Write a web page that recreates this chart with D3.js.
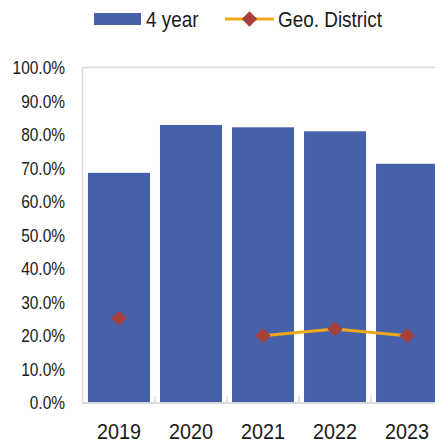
<!DOCTYPE html>
<html>
<head>
<meta charset="utf-8">
<script src="https://cdn.jsdelivr.net/npm/d3@7"></script>
<style>
  body { margin: 0; background: #fff; }
  text { font-family: "Liberation Sans Narrow", "Arial Narrow", "Liberation Sans", sans-serif; fill: #1a1a1a; }
</style>
</head>
<body>
<div class="chart"></div>
<script>
var years = ["2019", "2020", "2021", "2022", "2023"];
var fourYear = [0.687, 0.830, 0.823, 0.811, 0.714];
var geoDistrict = [0.253, null, 0.201, 0.221, 0.201];
var yTicks = [0, 0.1, 0.2, 0.3, 0.4, 0.5, 0.6, 0.7, 0.8, 0.9, 1.0];

var svgWidth = 435;
var svgHeight = 444;

// no narrow font installed, so squeeze the text horizontally
var squeeze = 0.86;

var svg = d3.select(".chart")
    .append("svg")
    .attr("width", svgWidth)
    .attr("height", svgHeight);

var xScale = d3.scaleBand()
    .domain(years)
    .range([83, 443])
    .paddingInner(0.139)
    .paddingOuter(0.069);

var yScale = d3.scaleLinear()
    .domain([0, 1])
    .range([403, 68]);

// plot border
svg.append("rect")
    .attr("x", 82.5)
    .attr("y", 67.5)
    .attr("width", 400)
    .attr("height", 335.5)
    .attr("fill", "none")
    .attr("stroke", "#d9d9d9")
    .attr("stroke-width", 1.5);

// bars
svg.selectAll(".bar")
    .data(years)
    .enter()
    .append("rect")
    .attr("class", "bar")
    .attr("x", function(d) { return xScale(d); })
    .attr("y", function(d, i) { return yScale(fourYear[i]); })
    .attr("width", xScale.bandwidth())
    .attr("height", function(d, i) { return yScale(0) - yScale(fourYear[i]); })
    .attr("fill", "#4660aa");

// x axis line with inner ticks between categories
var bottom = svg.append("g");
bottom.append("line")
    .attr("x1", 82).attr("x2", 443)
    .attr("y1", 403).attr("y2", 403)
    .attr("stroke", "#d9d9d9")
    .attr("stroke-width", 2);
years.slice(1).forEach(function(d) {
    var xx = xScale(d) - xScale.step() * xScale.paddingInner() / 2;
    bottom.append("line")
        .attr("x1", xx).attr("x2", xx)
        .attr("y1", 396).attr("y2", 403)
        .attr("stroke", "#d9d9d9")
        .attr("stroke-width", 1.5);
});

// y axis labels
var leftAxis = d3.axisLeft(yScale)
    .tickValues(yTicks)
    .tickFormat(d3.format(".1%"))
    .tickSize(0)
    .tickPadding(17);

var yAxisG = svg.append("g")
    .attr("transform", "translate(82,0)")
    .call(leftAxis);
yAxisG.select(".domain").remove();
yAxisG.selectAll("text")
    .attr("font-size", 18)
    .attr("fill", "#1a1a1a")
    .attr("transform", "translate(-17,0) scale(" + squeeze + ",1)")
    .attr("x", 0);

// x axis labels
var bottomAxis = d3.axisBottom(xScale).tickSize(0).tickPadding(20);
var xAxisG = svg.append("g")
    .attr("transform", "translate(0,403)")
    .call(bottomAxis);
xAxisG.select(".domain").remove();
xAxisG.selectAll("text")
    .attr("font-size", 22)
    .attr("fill", "#1a1a1a")
    .attr("transform", "scale(0.9,1)");

// geo district line
var lineGen = d3.line()
    .defined(function(d) { return d[1] !== null; })
    .x(function(d) { return xScale(d[0]) + xScale.bandwidth() / 2; })
    .y(function(d) { return yScale(d[1]); });

var geoPoints = years.map(function(d, i) { return [d, geoDistrict[i]]; });

svg.append("path")
    .datum(geoPoints)
    .attr("d", lineGen)
    .attr("fill", "none")
    .attr("stroke", "#f0a81c")
    .attr("stroke-width", 3);

var diamond = d3.symbol().type(d3.symbolDiamond2).size(150);

svg.selectAll(".marker")
    .data(geoPoints.filter(function(d) { return d[1] !== null; }))
    .enter()
    .append("path")
    .attr("class", "marker")
    .attr("d", diamond)
    .attr("transform", function(d) {
        return "translate(" + (xScale(d[0]) + xScale.bandwidth() / 2) + "," + yScale(d[1]) + ")";
    })
    .attr("fill", "#a5413a");

// legend
var legend = svg.append("g");
legend.append("rect")
    .attr("x", 94).attr("y", 13)
    .attr("width", 47).attr("height", 12)
    .attr("fill", "#4660aa");
legend.append("text")
    .attr("transform", "translate(146,19) scale(" + squeeze + ",1)")
    .attr("dy", "0.35em")
    .attr("font-size", 22)
    .text("4 year");
legend.append("line")
    .attr("x1", 225).attr("x2", 274)
    .attr("y1", 19).attr("y2", 19)
    .attr("stroke", "#f0a81c")
    .attr("stroke-width", 3);
legend.append("path")
    .attr("d", diamond)
    .attr("transform", "translate(249.5,19)")
    .attr("fill", "#a5413a");
legend.append("text")
    .attr("transform", "translate(278,19) scale(" + squeeze + ",1)")
    .attr("dy", "0.35em")
    .attr("font-size", 22)
    .text("Geo. District");
</script>
</body>
</html>
